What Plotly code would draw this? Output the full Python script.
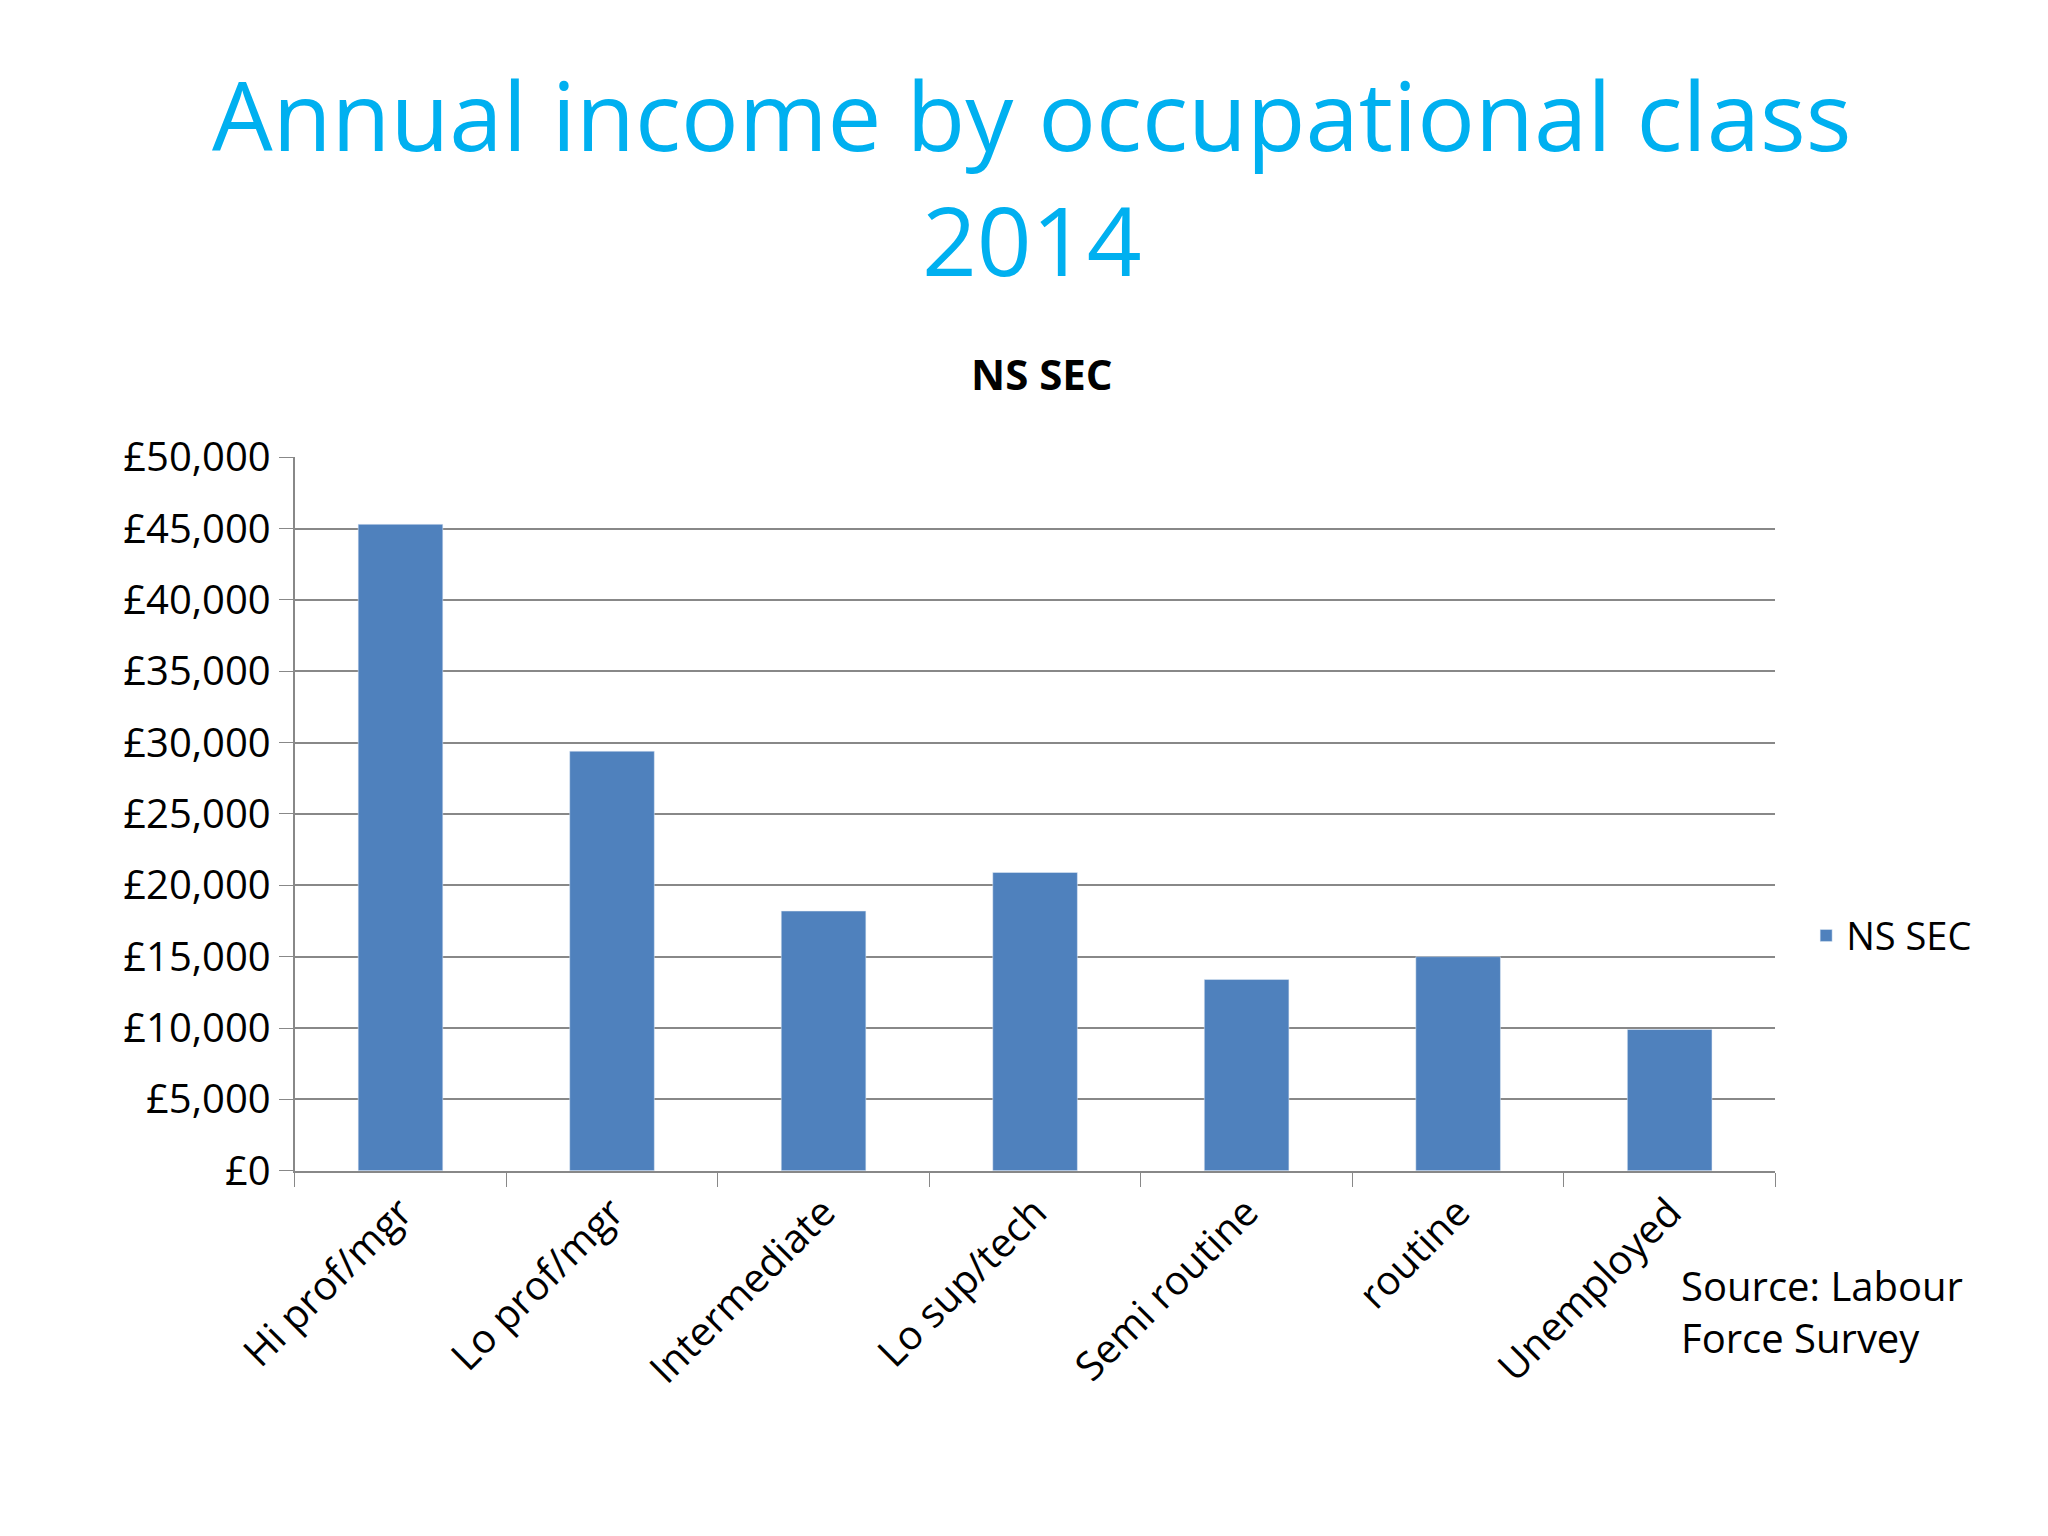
import plotly.graph_objects as go

# Dados do gráfico
categorias = ['Hi prof/mgr', 'Lo prof/mgr', 'Intermediate', 'Lo sup/tech',
              'Semi routine', 'routine', 'Unemployed']
renda = [45300, 29400, 18200, 20900, 13400, 15000, 9900]
ticks_y = list(range(0, 50001, 5000))
rotulos_y = ['£{:,}'.format(v) for v in ticks_y]

fig = go.Figure(go.Bar(
    x=categorias, y=renda, name='NS SEC',
    marker_color='#4F81BD', width=0.4,
))

fig.update_layout(
    width=2048, height=1536,
    paper_bgcolor='white', plot_bgcolor='white',
    font=dict(family='Open Sans', color='black'),
    margin=dict(l=0, r=0, t=0, b=0),
    showlegend=True,
    legend=dict(x=0.878, y=0.396, xanchor='left', yanchor='middle',
                font=dict(size=38)),
    annotations=[
        dict(text='Annual income by occupational class<br>2014', x=0.5, y=0.975,
             xref='paper', yref='paper', xanchor='center', yanchor='top',
             showarrow=False, font=dict(size=96, color='#00B0F0')),
        dict(text='<b>NS SEC</b>', x=0.505, y=0.762, xref='paper', yref='paper',
             xanchor='center', yanchor='middle', showarrow=False,
             font=dict(size=42)),
        dict(text='Source: Labour<br>Force Survey', x=0.816, y=0.115,
             xref='paper', yref='paper', xanchor='left', yanchor='bottom',
             align='left', showarrow=False, font=dict(size=40)),
    ],
)
fig.update_xaxes(
    domain=[0.14, 0.863], automargin=False, showline=True, linecolor='#888888',
    linewidth=2, ticks='outside', tickson='boundaries', ticklen=14,
    tickcolor='#888888', tickangle=-45, tickfont=dict(size=40),
)
fig.update_yaxes(
    domain=[0.243, 0.708], automargin=False, range=[0, 50050], tickvals=ticks_y,
    ticktext=rotulos_y, showline=True, linecolor='#888888', linewidth=2,
    ticks='outside', ticklen=14, tickcolor='#888888', gridcolor='#888888',
    gridwidth=2, tickfont=dict(size=40),
)

fig.write_html('out.html')
